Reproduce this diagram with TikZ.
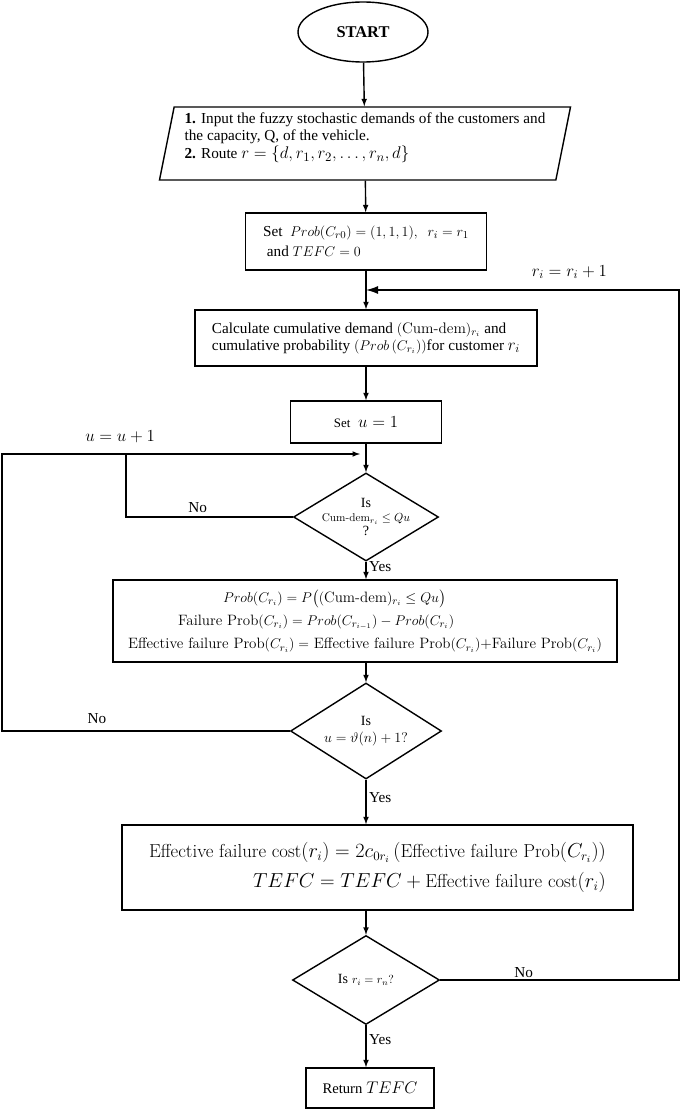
\documentclass[tikz,border=0pt]{standalone}
\usepackage{amsmath,amssymb}
\usepackage[no-math]{fontspec}
\newfontfamily\bodyfont{Liberation Serif}
\usetikzlibrary{shapes.geometric,arrows.meta}
\newcommand{\cmtext}[1]{\text{\normalfont #1}}

\begin{document}
\begin{tikzpicture}[x=0.3mm, y=-0.3mm]

      \tikzset{proc/.style={draw, very thick, rectangle},
               term/.style={draw, very thick, ellipse, minimum width=39mm, minimum height=18mm, font=\bodyfont\bfseries\fontsize{14}{16}\selectfont},
               io/.style={draw, very thick, trapezium, trapezium left angle=77, trapezium right angle=103, trapezium stretches body, minimum width=123.3mm, minimum height=21.9mm},
               decision/.style={draw, very thick, diamond, inner sep=0pt},
               txt/.style={font=\bodyfont\fontsize{13}{14.5}\selectfont},
               flow/.style={->, > = latex, very thick}}

      \useasboundingbox (0,0) rectangle (680,1111);
%% Boxes
      	\node[term] (start) at (363,32) {START};
      	\node[io, txt, align=left, inner ysep=1pt, text depth=13pt] (input) at (365,143.5) {\textbf{1.} Input the fuzzy stochastic demands of the customers and\\ the capacity, Q, of the vehicle.\\[1pt] \textbf{2.} Route {\fontsize{15}{15}\selectfont$r=\{d,r_1,r_2,\ldots,r_n,d\}$}};
      	\node[proc, txt, align=left, minimum width=72.3mm, minimum height=17.1mm] (init) at (366,241.5) {Set\ \ $Prob(C_{r0})=(1,1,1),\ \ r_i=r_1$\\[3pt] \ and $TEFC=0$};
      	\node[proc, txt, align=left, minimum width=102.6mm, minimum height=16.8mm] (calc) at (366,338) {Calculate cumulative demand\ $(\cmtext{Cum-dem})_{r_i}$\ and\\ cumulative probability\ $(Prob\,(C_{r_i}))$for customer\ {\fontsize{14}{14}\selectfont$r_i$}};
      	\node[proc, minimum width=45.3mm, minimum height=12.6mm] (setu) at (366,422) {{\bodyfont\fontsize{11}{13}\selectfont Set}\ \ {\fontsize{14}{16}\selectfont$u=1$}};
      	\node[decision, minimum width=43.5mm, minimum height=26.4mm, label={[align=center]center:{\bodyfont\fontsize{12}{14}\selectfont Is}\\ {\fontsize{9.6}{12}\selectfont$\text{Cum-dem}_{r_i}\le Qu$}\\ {\bodyfont\fontsize{12}{14}\selectfont ?}}] (dec1) at (366,517) {};
      	\node[proc, align=left, font=\fontsize{12.8}{20}\selectfont, minimum width=151.2mm, minimum height=24.6mm] (prob) at (365,621) {\hspace*{28.5mm}$Prob(C_{r_i})=P\big((\text{Cum-dem})_{r_i}\le Qu\big)$\\ \hspace*{15mm}Failure Prob$(C_{r_i})=Prob(C_{r_{i-1}})-Prob(C_{r_i})$\\ Effective failure Prob$(C_{r_i})=$ Effective failure Prob$(C_{r_i})$+Failure Prob$(C_{r_i})$};
      	\node[decision, minimum width=45.3mm, minimum height=28.8mm, label={[align=center]center:{\bodyfont\fontsize{12}{14}\selectfont Is}\\[2pt] {\fontsize{12}{14}\selectfont$u=\vartheta(n)+1?$}}] (dec2) at (366,731) {};
      	\node[proc, align=right, font=\fontsize{16}{25}\selectfont, minimum width=153.3mm, minimum height=25.5mm] (cost) at (377.5,867.5) {Effective failure cost$(r_i)=2c_{0r_i}\,($Effective failure Prob$(C_{r_i}))$\\ $TEFC=TEFC+{}$Effective failure cost$(r_i)$};
      	\node[decision, minimum width=44.1mm, minimum height=26.7mm, label={center:{\bodyfont\fontsize{12}{14}\selectfont Is} {\fontsize{10}{12}\selectfont$r_i=r_n?$}}] (dec3) at (366,980) {};
      	\node[proc, minimum width=38.4mm, minimum height=12mm] (ret) at (370,1088) {{\bodyfont\fontsize{12.5}{14}\selectfont Return} {\fontsize{14}{16}\selectfont$TEFC$}};
%Edges
		\path [flow] (start) edge (input);
		\path [flow] (input) edge (init);
		\path [flow] (init) edge (calc);
		\path [flow] (calc) edge (setu);
		\path [flow] (setu) edge (dec1);
		\path [flow] (dec1) edge node[right, pos=.3, inner sep=2pt, txt] {Yes} (dec1 |- prob.north);
		\path [flow] (prob.south -| dec2) edge (dec2);
		\path [flow] (dec2) edge node[right, pos=.4, inner sep=2pt, txt] {Yes} (dec2 |- cost.north);
		\path [flow] (cost.south -| dec3) edge (dec3);
		\path [flow] (dec3.south) edge node[right, pos=.35, inner sep=2pt, txt] {Yes} (dec3.south |- ret.north);
%Loops
		\coordinate (uL) at (2,454);
		\coordinate (uR) at (360,454);
		\coordinate (uJ) at (126,454);
		\coordinate (rR) at (679,290);
		\draw [very thick] (dec1.west) -- node[above, pos=.57, txt] {No} (dec1.west -| uJ) -- (uJ);
		\draw [flow] (dec2.west) -- node[above=2pt, pos=.67, txt] {No} (dec2.west -| uL) -- (uL) -- node[above=2mm, pos=.33, font=\fontsize{14}{16}\selectfont] {$u=u+1$} (uR);
		\draw [very thick, -{Latex[length=3.6mm, width=2.4mm]}] (dec3.east) -- node[above, inner sep=1pt, pos=.35, txt] {No} (dec3.east -| rR) -- (rR) -- node[above=2mm, pos=.35, font=\fontsize{14}{16}\selectfont] {$r_i=r_i+1$} (init.south |- rR);

	\end{tikzpicture}
\end{document}
